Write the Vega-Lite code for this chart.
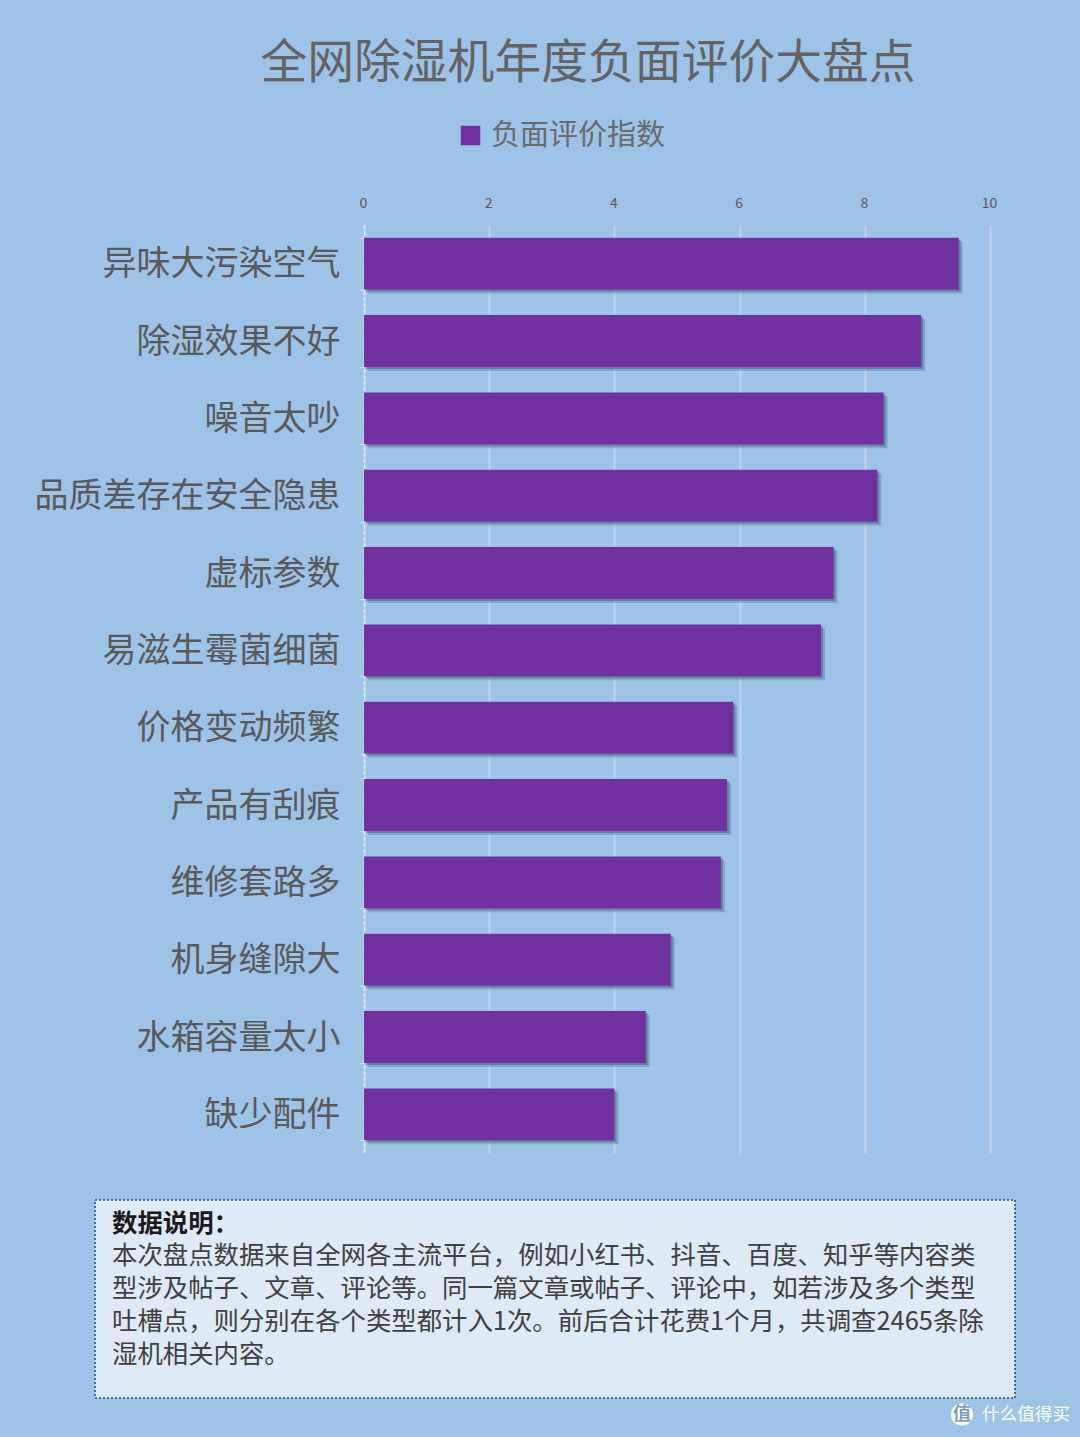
{
  "$schema": "https://vega.github.io/schema/vega-lite/v6.json",
  "background": "#9dc3e6",
  "padding": {"left": 34, "top": 41, "right": 11, "bottom": 39},
  "autosize": {"type": "pad"},
  "config": {
    "font": "Noto Sans CJK SC",
    "concat": {"spacing": 46}
  },
  "datasets": {
    "bars": [
      {"item": "异味大污染空气", "value": 9.5, "series": "负面评价指数"},
      {"item": "除湿效果不好", "value": 8.9, "series": "负面评价指数"},
      {"item": "噪音太吵", "value": 8.3, "series": "负面评价指数"},
      {"item": "品质差存在安全隐患", "value": 8.2, "series": "负面评价指数"},
      {"item": "虚标参数", "value": 7.5, "series": "负面评价指数"},
      {"item": "易滋生霉菌细菌", "value": 7.3, "series": "负面评价指数"},
      {"item": "价格变动频繁", "value": 5.9, "series": "负面评价指数"},
      {"item": "产品有刮痕", "value": 5.8, "series": "负面评价指数"},
      {"item": "维修套路多", "value": 5.7, "series": "负面评价指数"},
      {"item": "机身缝隙大", "value": 4.9, "series": "负面评价指数"},
      {"item": "水箱容量太小", "value": 4.5, "series": "负面评价指数"},
      {"item": "缺少配件", "value": 4.0, "series": "负面评价指数"}
    ],
    "notes": [
      {"line": 0, "text": "数据说明："},
      {"line": 1, "text": "本次盘点数据来自全网各主流平台，例如小红书、抖音、百度、知乎等内容类"},
      {"line": 2, "text": "型涉及帖子、文章、评论等。同一篇文章或帖子、评论中，如若涉及多个类型"},
      {"line": 3, "text": "吐槽点，则分别在各个类型都计入1次。前后合计花费1个月，共调查2465条除"},
      {"line": 4, "text": "湿机相关内容。"}
    ],
    "mark": [{"label": "什么值得买", "icon": "值"}]
  },
  "vconcat": [
    {
      "width": 626,
      "height": 928,
      "title": {
        "text": "全网除湿机年度负面评价大盘点",
        "fontSize": 46.8,
        "fontWeight": "normal",
        "color": "#636363",
        "anchor": "middle",
        "dx": -89,
        "offset": 108
      },
      "data": {"name": "bars"},
      "view": {"stroke": null},
      "encoding": {
        "y": {
          "field": "item",
          "type": "nominal",
          "sort": null,
          "title": null,
          "scale": {"paddingInner": 0.33, "paddingOuter": 0.165},
          "axis": {
            "labelFontSize": 34,
            "labelColor": "#595959",
            "labelPadding": 20,
            "labelOffset": 1,
            "labelLimit": 340,
            "tickColor": "#d5e3f1",
            "tickSize": 4,
            "tickBand": "extent",
            "domainColor": "#dce8f3",
            "domainWidth": 2,
            "domainDash": [3, 3]
          }
        },
        "x": {
          "field": "value",
          "type": "quantitative",
          "title": null,
          "scale": {"domain": [0, 10]},
          "axis": {
            "orient": "top",
            "values": [0, 2, 4, 6, 8, 10],
            "labelFontSize": 14,
            "labelColor": "#595959",
            "labelPadding": 15,
            "labelFlush": false,
            "labelOffset": -1,
            "ticks": false,
            "domain": false,
            "grid": true,
            "gridColor": "#bed4ea",
            "gridWidth": 2
          }
        }
      },
      "layer": [
        {
          "mark": {"type": "bar", "color": "#5b7696", "opacity": 0.4, "xOffset": 4, "yOffset": 4}
        },
        {
          "mark": {"type": "bar", "color": "#4a6484", "opacity": 0.55, "xOffset": 2, "yOffset": 2}
        },
        {
          "mark": {"type": "bar"},
          "encoding": {
            "color": {
              "field": "series",
              "type": "nominal",
              "scale": {"range": ["#7030a0"]},
              "legend": {
                "title": null,
                "orient": "none",
                "legendX": 92,
                "legendY": -104,
                "symbolType": "square",
                "symbolSize": 380,
                "symbolStrokeWidth": 0,
                "labelFontSize": 29,
                "labelColor": "#6a6a6a",
                "labelOffset": 6,
                "labelLimit": 300
              }
            }
          }
        }
      ]
    },
    {
      "width": 626,
      "height": 198,
      "view": {"stroke": null},
      "encoding": {
        "x": {"datum": 0, "type": "quantitative", "scale": {"domain": [0, 1], "range": [-269, 651]}, "axis": null}
      },
      "layer": [
        {
          "data": {"name": "mark"},
          "mark": {"type": "rect", "fill": "#deeaf6", "stroke": "#3f6f9f", "strokeWidth": 2, "strokeDash": [2, 2], "clip": false},
          "encoding": {
            "x2": {"datum": 1}
          }
        },
        {
          "data": {"name": "notes"},
          "transform": [{"filter": "datum.line > 0"}],
          "mark": {"type": "text", "align": "left", "baseline": "middle", "dx": 17, "fontSize": 25.4, "color": "#404040"},
          "encoding": {
            "y": {
              "field": "line",
              "type": "ordinal",
              "title": null,
              "scale": {"type": "point", "domain": [0, 1, 2, 3, 4], "range": [23.5, 154.5], "padding": 0},
              "axis": null
            },
            "text": {"field": "text"}
          }
        },
        {
          "data": {"name": "notes"},
          "transform": [{"filter": "datum.line === 0"}],
          "mark": {"type": "text", "align": "left", "baseline": "middle", "dx": 17, "fontSize": 25.4, "fontWeight": "bold", "color": "#1a1a1a"},
          "encoding": {
            "y": {"field": "line", "type": "ordinal"},
            "text": {"field": "text"}
          }
        },
        {
          "data": {"name": "mark"},
          "mark": {"type": "point", "shape": "circle", "filled": true, "color": "white", "opacity": 1, "size": 490, "xOffset": -53, "yOffset": 60},
          "encoding": {
            "x": {"datum": 1, "type": "quantitative"},
            "y": {"datum": 4, "type": "ordinal"}
          }
        },
        {
          "data": {"name": "mark"},
          "mark": {"type": "text", "align": "center", "baseline": "middle", "dx": -53, "dy": 60, "fontSize": 18, "fontWeight": "bold", "color": "#7f9cb8"},
          "encoding": {
            "x": {"datum": 1, "type": "quantitative"},
            "y": {"datum": 4, "type": "ordinal"},
            "text": {"field": "icon"}
          }
        },
        {
          "data": {"name": "mark"},
          "mark": {"type": "text", "align": "left", "baseline": "middle", "dx": -33, "dy": 60, "fontSize": 17.6, "color": "white"},
          "encoding": {
            "x": {"datum": 1, "type": "quantitative"},
            "y": {"datum": 4, "type": "ordinal"},
            "text": {"field": "label"}
          }
        }
      ]
    }
  ]
}
